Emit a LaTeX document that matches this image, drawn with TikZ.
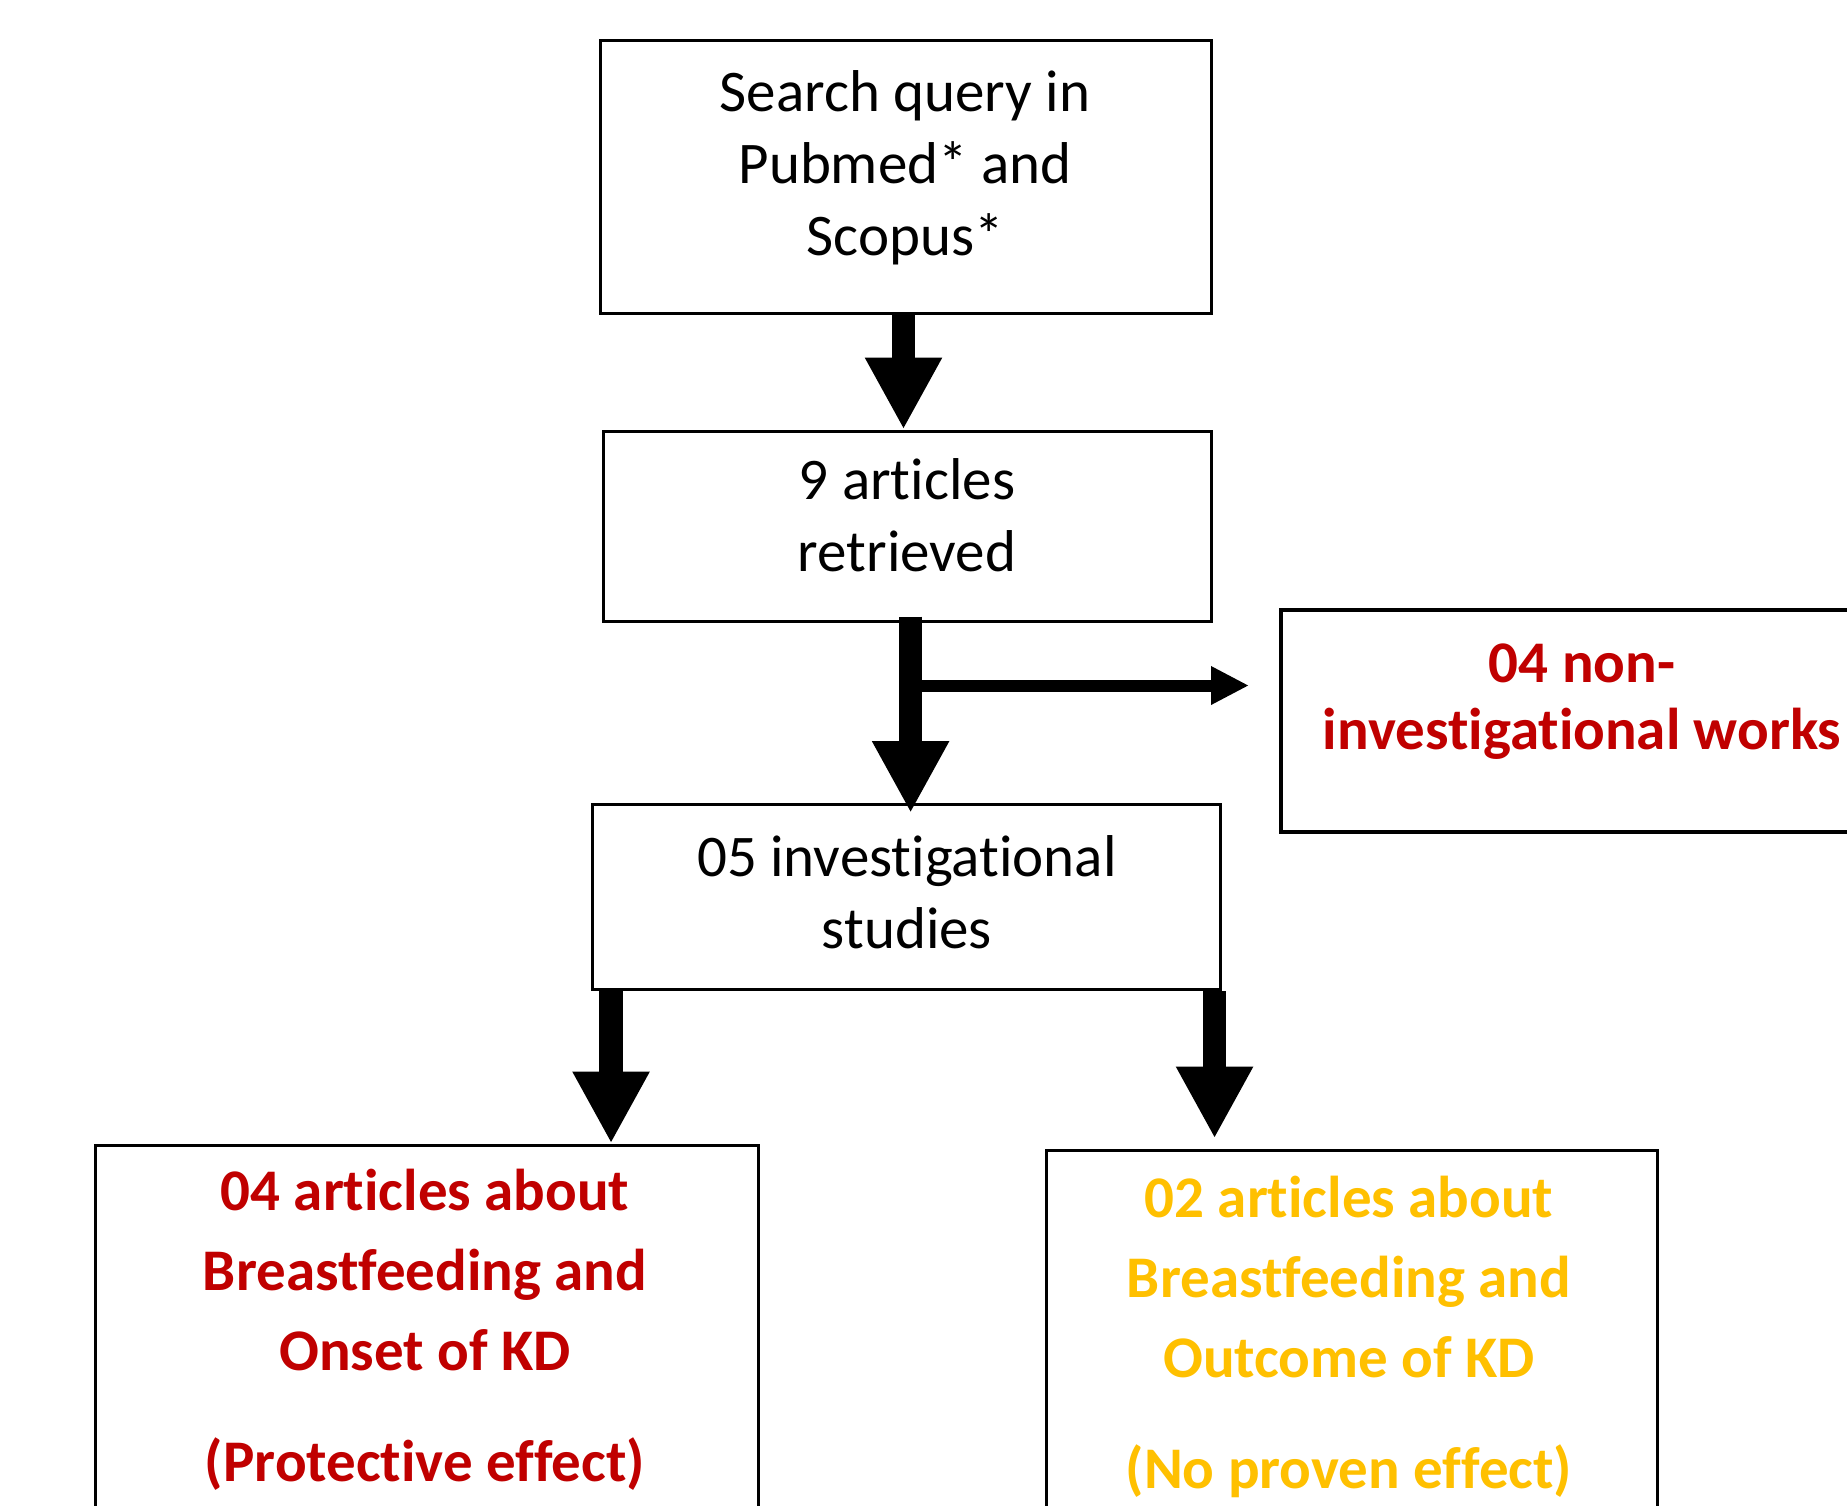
\documentclass[tikz,border=0pt]{standalone}
\usepackage{fontspec}
\setmainfont{Carlito}[Ligatures=NoCommon]
\usetikzlibrary{arrows.meta,calc}
\definecolor{kdred}{HTML}{C00000}
\definecolor{kdgold}{HTML}{FFC000}
\tikzset{
  box/.style={draw, line width=3pt, inner sep=0pt, fill=none},
  plain/.style={align=center, inner sep=0pt, font=\fontsize{59}{72}\selectfont},
  boldred/.style={align=center, inner sep=0pt, text=kdred, font=\bfseries\fontsize{59}{80}\selectfont},
  boldgold/.style={align=center, inner sep=0pt, text=kdgold, font=\bfseries\fontsize{59}{80}\selectfont},
  fat/.style={line width=23.5pt, -{Triangle[length=72pt,width=72pt]}},
  side/.style={line width=12pt, -{Triangle[length=38pt,width=36pt]}}
}
\begin{document}
\begin{tikzpicture}[x=1pt,y=-1pt]
\useasboundingbox (0,0) rectangle (1847,1505);
\clip (0,0) rectangle (1847,1505);
\fill[white] (0,0) rectangle (1847,1505);
% boxes
\node[box, minimum width=611pt, minimum height=273pt] (b1) at (905.5,176.5) {};
\node[box, minimum width=608pt, minimum height=190pt] (b2) at (907,526) {};
\node[box, line width=4pt, minimum width=602pt, minimum height=222pt] (b3) at (1582,721) {};
\node[box, minimum width=627.5pt, minimum height=185pt] (b4) at (906.3,897) {};
\node[box, minimum width=663pt, minimum height=415pt] (b5) at (427,1352.5) {};
\node[box, minimum width=611.5pt, minimum height=410pt] (b6) at (1351.8,1355) {};
% texts
\node[plain] (t1) at (905,168) {Search query in\\Pubmed* and\\Scopus*};
\node[plain] (t2) at (907,515) {9 articles\\retrieved};
\node[plain] (t4) at (907,892) {05 investigational\\studies};
\node[boldred, font=\bfseries\fontsize{59}{67}\selectfont] (t3) at (1582,702) {04 non-\\investigational works};
\node[boldred] (t5) at (425,1330) {04 articles about\\Breastfeeding and\\Onset of KD\\[31pt](Protective effect)};
\node[boldgold] (t6) at (1349,1337) {02 articles about\\Breastfeeding and\\Outcome of KD\\[31pt](No proven effect)};
% connectors
\draw[fat] ($(b1.south)+(-2,0)$) -- ($(b1.south |- b2.north)+(-2,0)$);
\draw[fat] ($(b2.south)+(3.6,-6)$) -- ($(b2.south |- b4.north)+(3.6,10)$);
\coordinate (j) at ($(b2.south)+(13,63)$);
\draw[side] (j) -- ($(j -| b3.west)+(-30,0)$);
\draw[fat] ($(b4.south west)+(20,0)$) -- ($(b4.south west |- b5.north)+(20,0)$);
\draw[fat] ($(b4.south east)+(-7,0)$) -- ($(b4.south east |- b6.north)+(-7,-10)$);
\end{tikzpicture}
\end{document}
